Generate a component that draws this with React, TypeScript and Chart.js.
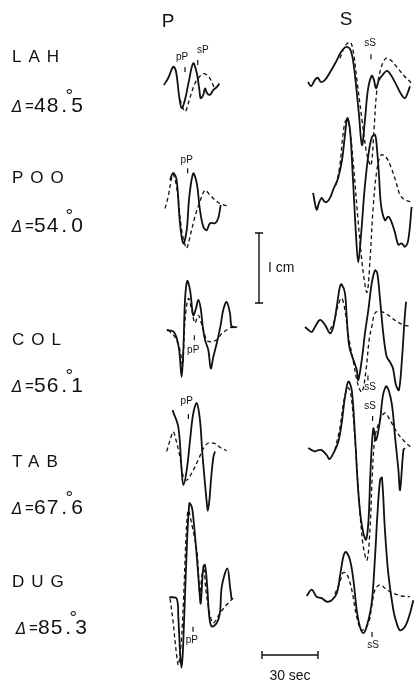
import React, { useEffect, useRef } from "react";
import { Chart, registerables } from "chart.js";
Chart.register(...registerables);

// ---------------- DATA ----------------
const stations = ["LAH", "POO", "COL", "TAB", "DUG"];
const distances = ["48", "54", "56", "67", "85"];
const distanceDecimals = ["5", "0", "1", "6", "3"];
const phases = ["P", "S"];

// Each trace: [time (s) from window start, amplitude (mm)]
const LAH_P_OBS: [number, number][] = [[2.1,0],[4.4,1.0],[7.1,2.6],[8.6,1.9],[10.3,-1.7],[11.6,-3.3],[13.4,-2.1],[15.2,0.2],[17.8,3.1],[19.7,1.7],[21.1,-0.7],[21.8,-1.9],[23.2,-1.4],[24.1,-0.5],[25.3,-1.2],[26.8,-1.4],[28.6,-0.7],[30.4,-0.3],[31.8,0.2]];
const LAH_P_SYN: [number, number][] = [[10.7,-2.1],[13.4,-3.8],[15.2,-2.6],[17.0,-1.0],[18.7,0.2],[20.5,1.0],[23.2,1.6],[25.3,1.4],[27.3,0.7],[28.6,-0.1],[30.0,-0.6]];
const POO_P_OBS: [number, number][] = [[5.4,3.6],[7.1,4.6],[8.9,3.6],[10.7,-2.6],[12.5,-5.5],[14.3,-3.6],[15.7,1.2],[17.8,4.5],[19.7,3.1],[21.4,-0.7],[23.2,-3.1],[25.0,-3.6],[26.8,-2.6],[29.5,-2.6],[31.2,-1.9],[32.5,0]];
const POO_P_SYN: [number, number][] = [[2.7,-0.5],[4.4,1.2],[6.3,4.0],[7.1,4.4],[8.9,2.6],[11.6,-3.6],[13.4,-5.7],[14.3,-6.2],[16.1,-4.5],[18.7,-1.7],[21.4,0.5],[24.1,2.1],[26.8,1.4],[30.4,0.5],[33.1,0.1],[36.6,-0.2]];
const COL_P_OBS: [number, number][] = [[3.6,0],[7.1,-0.2],[8.9,-1.1],[10.3,-2.9],[11.6,-6.7],[12.5,-2.9],[13.4,4.3],[14.6,7.0],[16.1,5.7],[17.8,2.1],[19.3,3.1],[20.5,4.3],[21.8,3.1],[22.9,0.5],[24.1,-1.4],[25.9,-2.9],[27.2,-5.5],[28.6,-3.8],[30.4,-1.9],[32.5,0.7],[33.9,2.9],[35.7,4.0],[37.5,2.4],[38.4,0.5],[41.1,0.4]];
const COL_P_SYN: [number, number][] = [[4.4,0],[8.0,-1.0],[10.7,-2.9],[12.1,-5.0],[13.4,1.4],[15.2,4.5],[17.0,2.9],[18.7,1.0],[20.5,2.1],[22.0,1.1],[23.2,0],[25.0,-1.4],[26.8,-1.7],[30.4,-1.4],[33.1,-0.5],[35.7,0],[39.3,0.5],[41.4,0.4]];
const TAB_P_OBS: [number, number][] = [[6.7,5.7],[9.8,3.3],[11.6,-2.9],[12.5,-5.0],[14.3,-2.9],[16.1,1.4],[17.8,5.2],[19.7,6.7],[21.4,4.3],[22.7,-0.5],[24.1,-4.8],[24.9,-7.1],[25.6,-8.7],[26.5,-7.1],[27.3,-4.3],[28.6,-1.0],[29.5,-0.2]];
const TAB_P_SYN: [number, number][] = [[3.6,-0.2],[5.4,1.4],[7.1,2.6],[8.6,1.4],[10.7,-1.0],[12.5,-3.8],[14.3,-4.3],[17.0,-3.3],[20.5,-1.4],[23.2,0.2],[25.9,1.0],[29.5,0.9],[32.1,0.4],[35.7,-0.1]];
const DUG_P_OBS: [number, number][] = [[5.0,-0.3],[8.9,-0.5],[9.8,-3.1],[10.7,-7.9],[11.5,-10.4],[12.3,-7.9],[13.9,3.6],[15.7,13.1],[17.0,12.6],[17.8,11.2],[19.7,5.5],[21.1,0.7],[21.8,-1.2],[23.2,4.0],[24.1,4.3],[25.3,1.2],[26.4,-3.1],[27.7,-4.5],[30.4,-4.0],[32.1,-2.6],[33.1,1.2],[36.1,3.8],[37.5,1.2],[38.4,-0.7]];
const DUG_P_SYN: [number, number][] = [[5.4,-0.5],[7.1,-4.0],[8.6,-7.9],[9.9,-10.0],[11.8,-5.0],[14.3,10.2],[15.2,12.1],[17.1,10.0],[19.7,6.4],[20.5,3.6],[21.4,-0.2],[22.5,2.9],[23.6,3.6],[24.6,0.7],[26.8,-2.9],[28.6,-4.0],[32.1,-2.6],[35.7,-1.4],[40.2,-0.2]];

const LAH_S_OBS: [number, number][] = [[4.3,0],[5.9,-0.6],[8.0,0.3],[9.6,0.6],[11.2,0],[13.4,0.3],[16.1,1.4],[19.3,2.9],[22.0,4.3],[24.6,5.0],[26.8,4.7],[28.4,3.1],[30.0,-0.4],[31.6,-4.7],[33.2,-9.0],[34.8,-5.4],[36.4,-1.1],[38.4,0.9],[39.6,0.3],[40.7,-0.9],[42.3,0.3],[44.5,1.1],[46.6,1.6],[48.7,1.0],[51.4,-0.3],[54.1,-1.7],[56.2,-2.3],[57.9,-1.4],[58.9,-0.6]];
const LAH_S_SYN: [number, number][] = [[21.4,3.4],[24.1,5.1],[26.8,5.7],[28.4,4.6],[30.5,0.3],[33.2,-5.4],[35.9,-10.4],[38.0,-11.9],[39.6,-6.9],[41.2,-1.1],[43.4,2.0],[46.1,3.4],[48.7,3.1],[52.0,2.1],[55.7,0.9],[59.5,-0.1]];
const POO_S_OBS: [number, number][] = [[7.0,0.3],[8.9,-2.1],[10.2,-1.1],[11.6,-0.4],[12.9,-0.9],[14.3,-1.0],[16.1,-0.4],[17.7,0.7],[20.4,2.4],[22.5,5.0],[24.1,8.6],[25.4,11.0],[26.8,9.3],[28.4,2.1],[30.0,-5.7],[31.2,-9.6],[32.7,-5.7],[34.8,1.4],[37.0,6.4],[38.6,8.3],[40.2,8.6],[41.2,6.7],[42.3,2.9],[43.4,-1.4],[45.5,-3.6],[47.3,-3.1],[49.1,-3.9],[50.9,-5.4],[52.7,-7.1],[54.5,-6.9],[56.2,-7.4],[58.0,-6.4],[59.8,-1.7]];
const POO_S_SYN: [number, number][] = [[19.3,1.4],[21.4,4.3],[23.0,8.6],[24.6,10.7],[26.3,10.0],[28.4,5.0],[31.1,-3.6],[33.7,-10.7],[35.9,-13.9],[37.5,-9.3],[39.1,-2.1],[41.2,3.6],[43.4,5.7],[46.1,5.4],[48.7,4.0],[51.4,1.9],[53.6,0],[56.2,-0.7],[59.5,-1.0]];
const COL_S_OBS: [number, number][] = [[2.7,0],[4.4,-0.4],[6.3,-0.7],[8.0,0],[10.7,1.0],[13.4,0.3],[16.1,-0.9],[17.8,0],[19.7,2.9],[21.4,5.8],[22.3,6.1],[24.1,4.8],[25.0,1.5],[26.4,-2.8],[28.6,-4.7],[30.4,-6.1],[31.2,-7.6],[33.1,-4.7],[34.8,-0.9],[36.6,2.4],[38.4,6.2],[40.2,8.1],[41.4,7.7],[42.9,3.9],[44.6,-0.9],[46.4,-4.2],[48.2,-5.0],[49.8,-5.9],[51.4,-8.3],[53.0,-9.0],[54.6,-4.7],[56.0,1.0],[56.8,3.6]];
const COL_S_SYN: [number, number][] = [[16.1,-0.4],[18.2,0.7],[20.4,3.1],[22.3,4.1],[24.1,2.4],[25.7,-0.9],[28.4,-4.7],[31.1,-8.3],[33.2,-9.3],[35.4,-6.1],[37.0,-1.9],[38.4,0],[40.2,2.0],[42.9,2.2],[45.5,2.0],[48.2,1.5],[51.8,0.8],[55.4,0.3],[58.9,0.1]];
const TAB_S_OBS: [number, number][] = [[4.4,0],[6.3,-0.3],[8.0,-0.5],[9.8,-0.3],[11.6,-0.3],[14.3,-1.0],[15.7,-1.6],[17.8,-0.8],[20.5,0.9],[22.3,3.5],[24.1,7.3],[25.9,9.5],[27.7,8.3],[29.5,1.6],[30.8,-4.6],[32.1,-8.9],[33.8,-12.0],[35.4,-13.1],[36.7,-10.3],[37.8,-3.1],[39.3,2.8],[40.7,1.1],[42.9,4.0],[44.5,7.6],[46.4,8.8],[49.1,6.4],[50.9,1.6],[52.7,-3.1],[53.6,-6.0],[55.4,-0.3],[56.2,0]];
const TAB_S_SYN: [number, number][] = [[18.7,-0.3],[21.4,2.9],[23.6,6.9],[25.7,8.6],[27.3,7.6],[29.5,1.1],[31.6,-7.4],[33.8,-13.9],[35.9,-16.0],[37.5,-11.6],[38.6,-4.6],[40.2,1.6],[42.9,4.0],[45.5,5.0],[48.2,4.0],[51.8,2.3],[55.4,1.1],[59.8,0]];
const DUG_S_OBS: [number, number][] = [[3.6,0],[6.3,0.9],[8.9,-0.1],[11.6,-0.3],[14.3,-0.8],[17.0,-0.6],[19.7,0.4],[21.4,2.8],[23.2,5.6],[24.5,6.3],[26.8,5.1],[28.6,2.3],[30.4,-2.0],[32.1,-4.4],[33.9,-5.3],[35.7,-4.4],[38.4,-1.0],[40.2,5.6],[41.4,11.3],[42.9,16.6],[43.9,16.9],[45.5,9.4],[47.3,3.2],[50.0,-2.0],[51.8,-3.9],[53.6,-4.9],[56.2,-4.4],[58.9,-2.5],[60.7,-0.6]];
const DUG_S_SYN: [number, number][] = [[18.7,0.3],[21.4,2.0],[23.0,3.3],[25.0,3.2],[27.7,0.9],[30.4,-3.0],[33.1,-4.9],[36.6,-3.9],[38.4,-1.5],[40.2,0.9],[42.9,1.6],[46.4,0.9],[50.0,0.4],[54.5,0],[58.9,-0.1]];

// phase marks: label, station index, column, time (s), amplitude (mm)
const markLabels = ["pP", "sP", "pP", "pP", "pP", "pP", "sS", "sS", "sS", "sS"];
const markStation = [0, 0, 1, 2, 3, 4, 0, 2, 3, 4];
const markColumn = [0, 0, 0, 0, 0, 0, 1, 1, 1, 1];
const markTextT = [11.8, 23.0, 14.3, 17.8, 14.3, 17.1, 37.5, 37.5, 37.5, 39.1];
const markTextA = [3.9, 5.0, 6.4, -2.9, 6.9, -6.4, 5.5, -8.6, 5.9, -7.0];
const markTickT = [13.4, 20.2, 14.8, 18.4, 15.2, 17.7, 38.0, 36.4, 38.9, 38.6];
const markTickA = [2.2, 3.2, 4.9, -1.1, 4.8, -4.9, 3.6, -7.3, 4.2, -5.5];

const scaleBarMm = 10; // 1 cm
const scaleBarSec = 30;

// ---------------- LAYOUT ----------------
const W = 415, H = 688;
const PX_PER_SEC = 56 / 30;
const PX_PER_MM = 7;
const columnStartSec = [160 / PX_PER_SEC, 300 / PX_PER_SEC];
const baselineMm = [
  [85 / 7, 205 / 7, 330 / 7, 450 / 7, 595 / 7],
  [82 / 7, 195 / 7, 327 / 7, 448 / 7, 596 / 7],
];

const traces = [
  [LAH_P_OBS, LAH_P_SYN, LAH_S_OBS, LAH_S_SYN],
  [POO_P_OBS, POO_P_SYN, POO_S_OBS, POO_S_SYN],
  [COL_P_OBS, COL_P_SYN, COL_S_OBS, COL_S_SYN],
  [TAB_P_OBS, TAB_P_SYN, TAB_S_OBS, TAB_S_SYN],
  [DUG_P_OBS, DUG_P_SYN, DUG_S_OBS, DUG_S_SYN],
];

const INK = "#111";
const SANS = "'Liberation Sans', Arial, sans-serif";

export default function App() {
  const ref = useRef<HTMLCanvasElement | null>(null);
  useEffect(() => {
    const canvas = ref.current!;
    const datasets: any[] = [];
    traces.forEach((st, si) => {
      st.forEach((tr, k) => {
        const col = k < 2 ? 0 : 1;
        const synthetic = k % 2 === 1;
        datasets.push({
          label: stations[si] + " " + phases[col] + (synthetic ? " synthetic" : " observed"),
          data: tr.map(([t, a]) => ({ x: columnStartSec[col] + t, y: -baselineMm[col][si] + a })),
          borderColor: INK,
          borderWidth: synthetic ? 1.3 : 1.8,
          borderDash: synthetic ? [4, 3] : [],
          pointRadius: 0,
          tension: 0.35,
          fill: false,
        });
      });
    });

    const overlay = {
      id: "overlay",
      afterDatasetsDraw(chart: any) {
        const ctx = chart.ctx as CanvasRenderingContext2D;
        const xs = chart.scales.x, ys = chart.scales.y;
        const px = (s: number) => xs.getPixelForValue(s);
        const py = (m: number) => ys.getPixelForValue(m);
        ctx.save();
        ctx.fillStyle = INK;
        ctx.strokeStyle = INK;
        // column headers
        ctx.font = "19px " + SANS;
        ctx.textAlign = "center";
        ctx.textBaseline = "middle";
        ctx.fillText(phases[0], 168, 22);
        ctx.fillText(phases[1], 346, 20);
        // station labels
        const nameY = [57, 178, 340, 462, 582];
        const distY = [106, 226, 386, 508, 628];
        stations.forEach((s, i) => {
          const dx = i === 4 ? 4 : 0;
          ctx.textAlign = "left";
          ctx.textBaseline = "middle";
          ctx.font = "17px " + SANS;
          (ctx as any).letterSpacing = "7px";
          ctx.fillText(s, 12, nameY[i]);
          (ctx as any).letterSpacing = "0px";
          ctx.font = "italic 15px 'DejaVu Sans', sans-serif";
          ctx.fillText("Δ", 12 + dx, distY[i] + 2);
          ctx.font = "15px " + SANS;
          ctx.fillText("=", 25 + dx, distY[i] + 1);
          ctx.font = "21px " + SANS;
          const xi = 34 + dx;
          (ctx as any).letterSpacing = "1px";
          ctx.fillText(distances[i], xi, distY[i]);
          const wi = ctx.measureText(distances[i]).width;
          (ctx as any).letterSpacing = "0px";
          ctx.fillText(".", xi + wi + 2, distY[i]);
          ctx.fillText(distanceDecimals[i], xi + wi + 12, distY[i]);
          ctx.font = "19px " + SANS;
          ctx.textAlign = "center";
          ctx.textBaseline = "alphabetic";
          ctx.fillText("°", xi + wi + 10, distY[i] - 4);
        });
        // phase marks
        ctx.font = "10px " + SANS;
        ctx.textAlign = "center";
        ctx.textBaseline = "middle";
        ctx.lineWidth = 1.2;
        markLabels.forEach((lab, i) => {
          const c = markColumn[i], s = markStation[i];
          const base = -baselineMm[c][s];
          ctx.fillText(lab, px(columnStartSec[c] + markTextT[i]), py(base + markTextA[i]));
          const tx = px(columnStartSec[c] + markTickT[i]);
          const ty = py(base + markTickA[i]);
          ctx.beginPath();
          ctx.moveTo(tx, ty - 2.5);
          ctx.lineTo(tx, ty + 2.5);
          ctx.stroke();
        });
        // vertical 1 cm bar
        const bx = px(259 / PX_PER_SEC);
        const by0 = py(-303 / PX_PER_MM);
        const by1 = py(-303 / PX_PER_MM + scaleBarMm);
        ctx.lineWidth = 1.4;
        ctx.beginPath();
        ctx.moveTo(bx, by0); ctx.lineTo(bx, by1);
        ctx.moveTo(bx - 4, by0); ctx.lineTo(bx + 4, by0);
        ctx.moveTo(bx - 4, by1); ctx.lineTo(bx + 4, by1);
        ctx.stroke();
        ctx.font = "14px " + SANS;
        ctx.textAlign = "left";
        ctx.textBaseline = "middle";
        ctx.fillText("I cm", 268, (by0 + by1) / 2);
        // horizontal 30 s bar
        const hx0 = px(262 / PX_PER_SEC);
        const hx1 = px(262 / PX_PER_SEC + scaleBarSec);
        const hy = py(-655 / PX_PER_MM);
        ctx.beginPath();
        ctx.moveTo(hx0, hy); ctx.lineTo(hx1, hy);
        ctx.moveTo(hx0, hy - 4); ctx.lineTo(hx0, hy + 4);
        ctx.moveTo(hx1, hy - 4); ctx.lineTo(hx1, hy + 4);
        ctx.stroke();
        ctx.textAlign = "center";
        ctx.fillText(scaleBarSec + " sec", (hx0 + hx1) / 2, 676);
        ctx.restore();
      },
    };

    const chart = new Chart(canvas, {
      type: "line",
      data: { datasets },
      options: {
        animation: false,
        responsive: false,
        maintainAspectRatio: false,
        devicePixelRatio: 1,
        layout: { padding: 0 },
        plugins: { legend: { display: false }, tooltip: { enabled: false }, title: { display: false } },
        scales: {
          x: { type: "linear", display: false, min: 0, max: W / PX_PER_SEC },
          y: { type: "linear", display: false, min: -H / PX_PER_MM, max: 0 },
        },
      },
      plugins: [overlay],
    });
    return () => chart.destroy();
  }, []);
  return (
    <div style={{ position: "absolute", left: 0, top: 0, width: W, height: H, background: "#fff" }}>
      <canvas ref={ref} width={W} height={H} style={{ width: W, height: H, display: "block" }} />
    </div>
  );
}
